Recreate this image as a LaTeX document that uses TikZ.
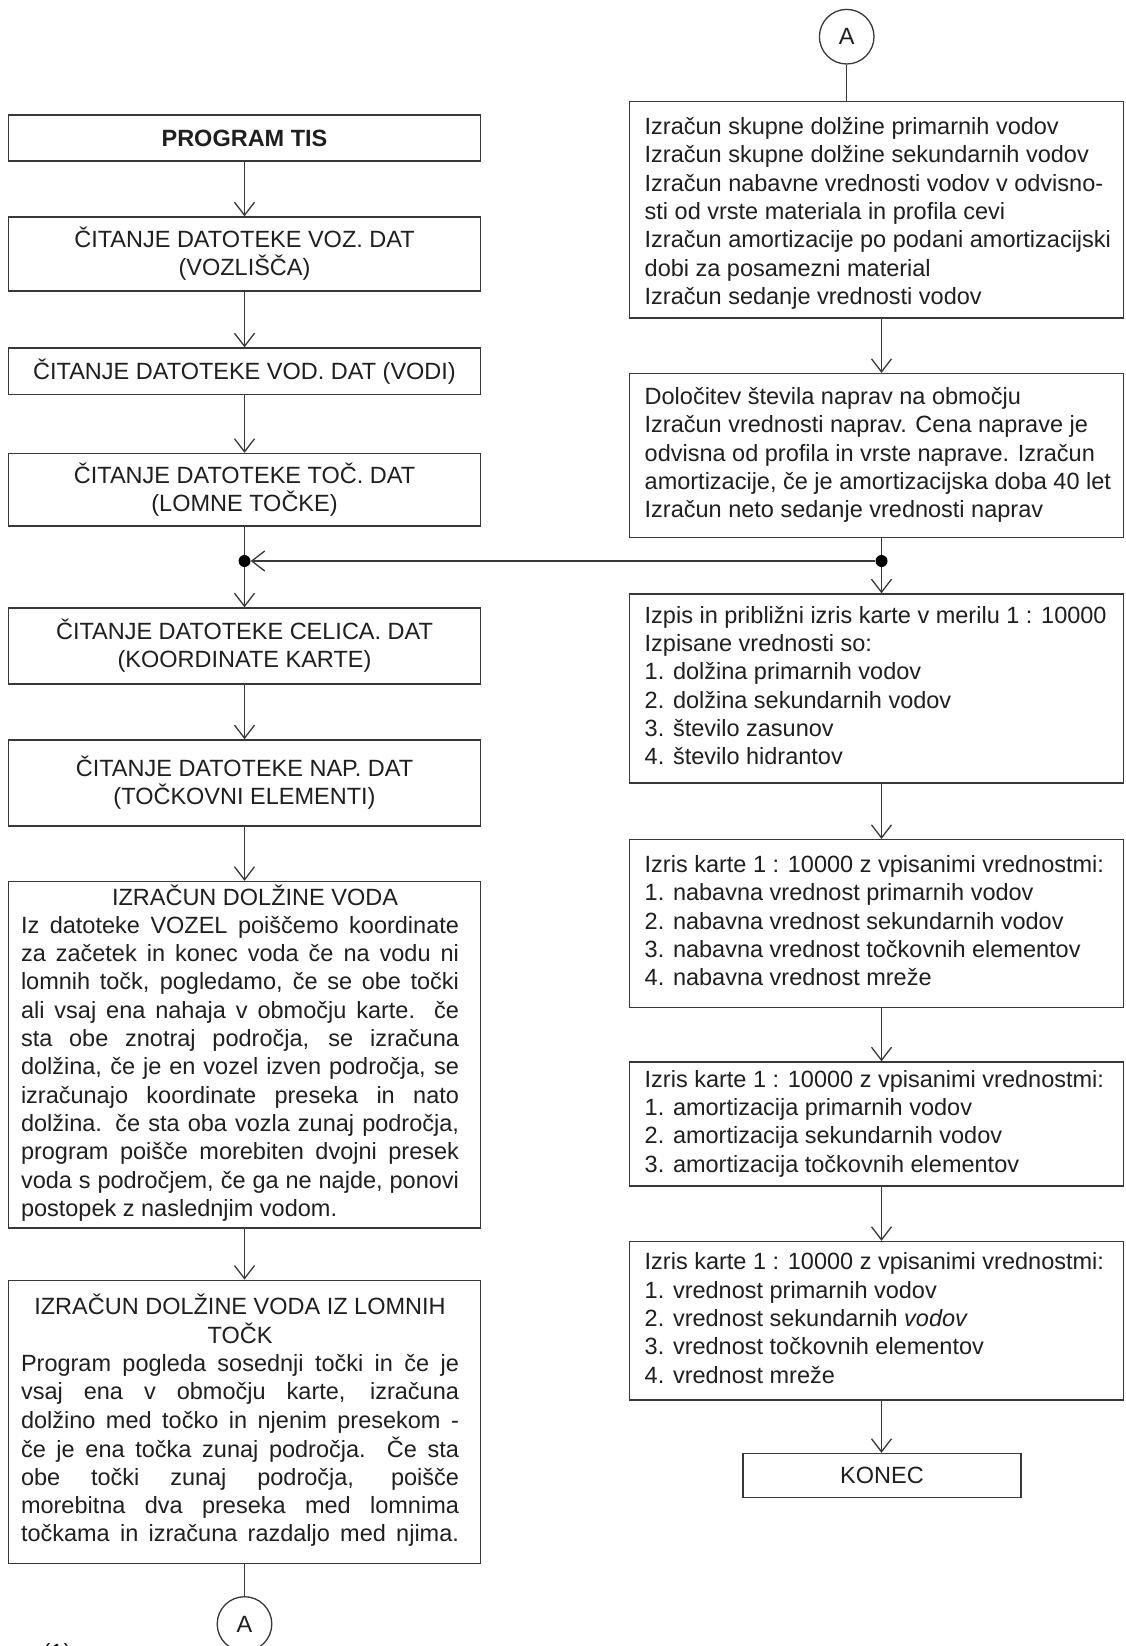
\documentclass[tikz,border=0pt]{standalone}
\usepackage{fontspec}
\setmainfont{Liberation Sans}
\usetikzlibrary{arrows.meta,shapes.geometric}
\newcommand{\JLine}[1]{\makebox[438pt][s]{#1}}
\newcommand{\CLine}[1]{\makebox[438pt][c]{#1}}
\newcommand{\LBlock}[1]{\makebox[447pt][l]{\begin{tabular}{@{}l@{}}#1\end{tabular}}}
\newcommand{\RBlock}[1]{\makebox[463.8pt][l]{\begin{tabular}{@{}l@{}}#1\end{tabular}}}
\newcommand{\LowBy}[2]{\raisebox{-#1}[\height][\depth]{#2}}
\tikzset{
  base/.style={draw=black!78, line width=1.4pt, rectangle, inner ysep=0pt,
    font=\fontsize{23.5}{28.3}\selectfont, text=black!88},
  lbox/.style={base, minimum width=472.2pt, inner xsep=12.6pt, align=center},
  rbox/.style={base, minimum width=493.8pt, inner xsep=15pt},
  conn/.style={draw=black!78, line width=1.3pt},
  arr/.style={conn, -{Straight Barb[length=13pt,width=20pt]}},
  jdot/.style={circle, fill=black, minimum size=12pt, inner sep=0pt},
  conncirc/.style={circle, draw=black!78, line width=1.3pt, minimum size=54.6pt,
    inner sep=0pt, font=\fontsize{23.5}{28}\selectfont, text=black!88}
}
\begin{document}
\begin{tikzpicture}[x=1pt,y=-1pt]
\fill[white] (0,0) rectangle (1125,1646);
\useasboundingbox (0,0) rectangle (1125,1646);

% left column
\node[lbox, minimum height=46pt] (L1) at (244.5,138) {\textbf{PROGRAM TIS}};
\node[lbox, minimum height=74pt] (L2) at (244.5,254) {ČITANJE DATOTEKE VOZ. DAT\\(VOZLIŠČA)};
\node[lbox, minimum height=46.5pt] (L3) at (244.5,371.25) {ČITANJE DATOTEKE VOD. DAT (VODI)};
\node[lbox, minimum height=72.5pt] (L4) at (244.5,489.75) {ČITANJE DATOTEKE TOČ. DAT\\(LOMNE TOČKE)};
\node[lbox, minimum height=76pt] (L5) at (244.5,646) {ČITANJE DATOTEKE CELICA. DAT\\(KOORDINATE KARTE)};
\node[lbox, minimum height=86pt] (L6) at (244.5,782.9) {ČITANJE DATOTEKE NAP. DAT\\(TOČKOVNI ELEMENTI)};
\node[lbox, minimum height=346.3pt] (L7) at (244.5,1054.65) {\LBlock{%
\CLine{\hspace{30pt}IZRAČUN DOLŽINE VODA}\\
\JLine{Iz datoteke VOZEL poiščemo koordinate}\\
\JLine{za začetek in konec voda če na vodu ni}\\
\JLine{lomnih točk, pogledamo, če se obe točki}\\
\JLine{ali vsaj ena nahaja v območju karte. če}\\
\JLine{sta obe znotraj področja, se izračuna}\\
\JLine{dolžina, če je en vozel izven področja, se}\\
\JLine{izračunajo koordinate preseka in nato}\\
\JLine{dolžina. če sta oba vozla zunaj področja,}\\
\JLine{program poišče morebiten dvojni presek}\\
\JLine{voda s področjem, če ga ne najde, ponovi}\\
postopek z naslednjim vodom.}};
\node[lbox, minimum height=283.4pt] (L8) at (244.5,1422) {\LBlock{%
\CLine{IZRAČUN DOLŽINE VODA IZ LOMNIH}\\
\CLine{TOČK}\\
\JLine{Program pogleda sosednji točki in če je}\\
\JLine{vsaj ena v območju karte, izračuna}\\
\JLine{dolžino med točko in njenim presekom -}\\
\JLine{če je ena točka zunaj področja. Če sta}\\
\JLine{obe točki zunaj področja, poišče}\\
\JLine{morebitna dva preseka med lomnima}\\
\JLine{točkama in izračuna razdaljo med njima.}}};
\node[conncirc] (Abot) at (244.5,1624) {A};
\node[font=\fontsize{23.5}{28}\selectfont, text=black!88, anchor=base] (fn) at (57,1660) {(1)};

% right column
\node[conncirc] (Atop) at (846.7,36.7) {A};
\node[rbox, minimum height=216.3pt] (R1) at (876.6,209.85) {\LowBy{4pt}{\RBlock{%
Izračun skupne dolžine primarnih vodov\\
Izračun skupne dolžine sekundarnih vodov\\
Izračun nabavne vrednosti vodov v odvisno-\\
sti od vrste materiala in profila cevi\\
Izračun amortizacije po podani amortizacijski\\
dobi za posamezni material\\
Izračun sedanje vrednosti vodov}}};
\node[rbox, minimum height=163.7pt] (R2) at (876.6,455.45) {\RBlock{%
Določitev števila naprav na območju\\
Izračun vrednosti naprav. Cena naprave je\\
odvisna od profila in vrste naprave. Izračun\\
amortizacije, če je amortizacijska doba 40 let\\
Izračun neto sedanje vrednosti naprav}};
\node[rbox, minimum height=188.9pt] (R3) at (876.6,688.45) {\RBlock{%
Izpis in približni izris karte v merilu 1 : 10000\\
Izpisane vrednosti so:\\
1. dolžina primarnih vodov\\
2. dolžina sekundarnih vodov\\
3. število zasunov\\
4. število hidrantov}};
\node[rbox, minimum height=167.9pt] (R4) at (876.6,923.55) {\RBlock{%
Izris karte 1 : 10000 z vpisanimi vrednostmi:\\
1. nabavna vrednost primarnih vodov\\
2. nabavna vrednost sekundarnih vodov\\
3. nabavna vrednost točkovnih elementov\\
4. nabavna vrednost mreže}};
\node[rbox, minimum height=123.9pt] (R5) at (876.6,1123.95) {\RBlock{%
Izris karte 1 : 10000 z vpisanimi vrednostmi:\\
1. amortizacija primarnih vodov\\
2. amortizacija sekundarnih vodov\\
3. amortizacija točkovnih elementov}};
\node[rbox, minimum height=158.5pt] (R6) at (876.6,1320.75) {\RBlock{%
Izris karte 1 : 10000 z vpisanimi vrednostmi:\\
1. vrednost primarnih vodov\\
2. vrednost sekundarnih \textit{vodov}\\
3. vrednost točkovnih elementov\\
4. vrednost mreže}};
\node[base, minimum width=278pt, minimum height=44pt] (KON) at (882,1475.5) {KONEC};

% junction dots
\node[jdot] (Jl) at (244.5,561) {};
\node[jdot] (Jr) at (881.5,561) {};

% left connectors
\draw[arr] (L1.south) -- (L2.north);
\draw[arr] (L2.south) -- (L3.north);
\draw[arr] (L3.south) -- (L4.north);
\draw[conn] (L4.south) -- (Jl);
\draw[arr] (Jl) -- (L5.north);
\draw[arr] (L5.south) -- (L6.north);
\draw[arr] (L6.south) -- (L7.north);
\draw[arr] (L7.south) -- (L8.north);
\draw[conn] (L8.south) -- (Abot.north);

% right connectors
\draw[conn] (Atop.south) -- (Atop.south |- R1.north);
\draw[arr] (R1.south -| Jr) -- (R2.north -| Jr);
\draw[conn] (R2.south -| Jr) -- (Jr);
\draw[arr] (Jr) -- (R3.north -| Jr);
\draw[arr] (Jr) -- (Jl);
\draw[arr] (R3.south -| Jr) -- (R4.north -| Jr);
\draw[arr] (R4.south -| Jr) -- (R5.north -| Jr);
\draw[arr] (R5.south -| Jr) -- (R6.north -| Jr);
\draw[arr] (R6.south -| Jr) -- (KON.north -| Jr);
\end{tikzpicture}
\end{document}
